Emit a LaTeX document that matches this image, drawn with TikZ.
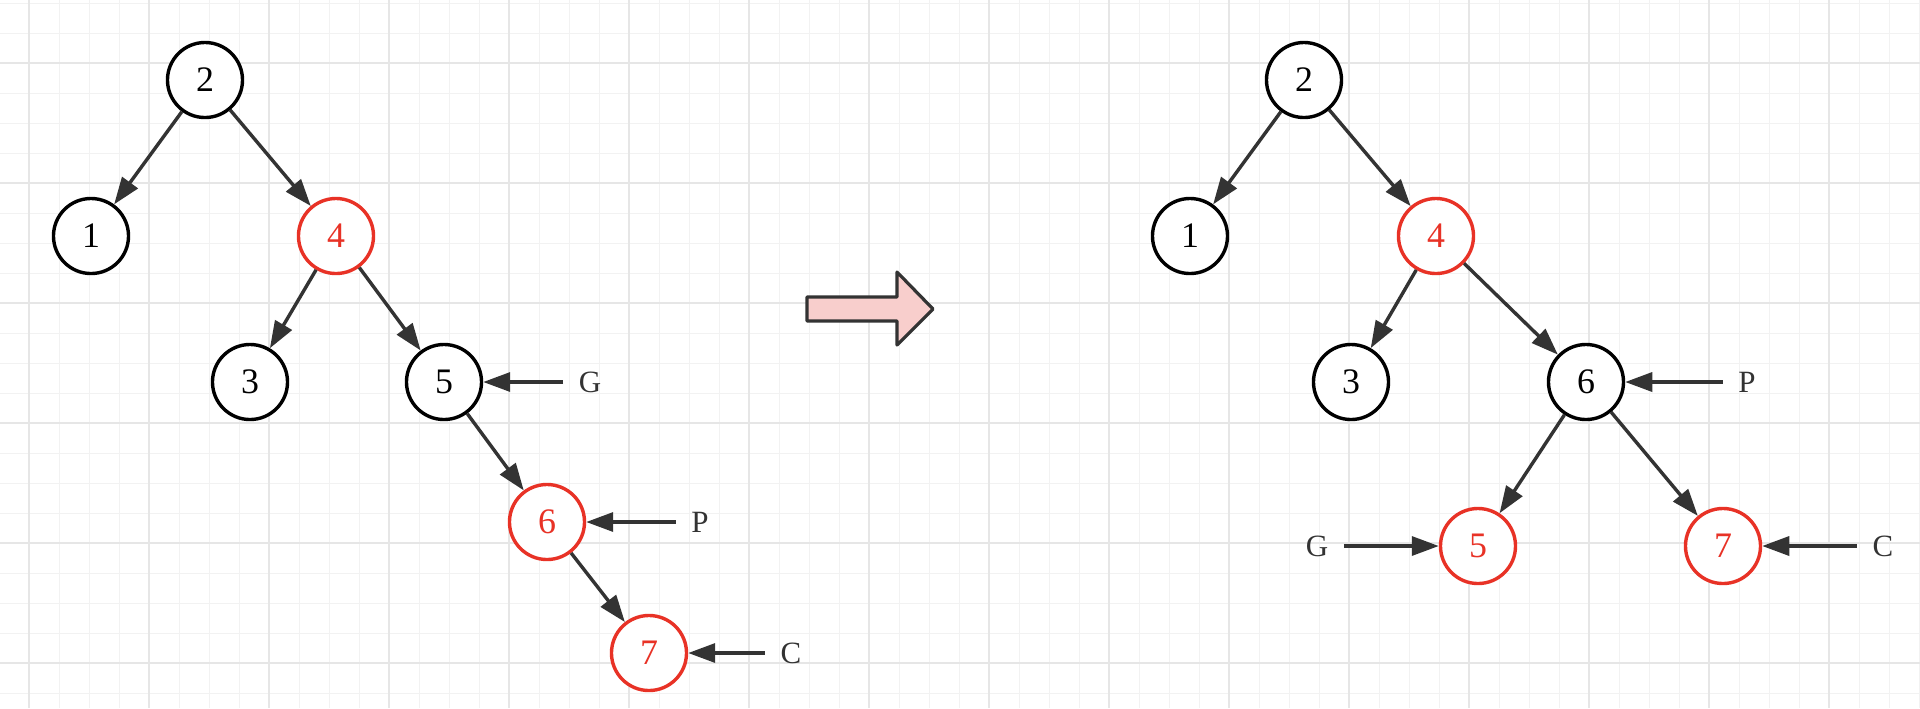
\documentclass[tikz,border=0pt]{standalone}
\usepackage{fontspec}
\setmainfont{Liberation Serif}
\usetikzlibrary{arrows.meta}
\definecolor{edgegray}{RGB}{51,51,51}
\definecolor{rbred}{RGB}{232,50,38}
\definecolor{gridminor}{RGB}{242,242,242}
\definecolor{gridmajor}{RGB}{230,230,230}
\definecolor{arrowpink}{RGB}{248,206,204}

\begin{document}
\begin{tikzpicture}[x=0.01cm,y=-0.01cm,
                    blk/.style={circle,draw=black,fill=white,line width=0.034cm,minimum size=0.75cm,inner sep=0pt,font=\fontsize{10.2}{12}\selectfont},
                    rnd/.style={blk,draw=rbred,text=rbred},
                    ptr/.style={inner xsep=0.15cm,font=\fontsize{8.8}{10}\selectfont,text=edgegray},
                    lnk/.style={draw=edgegray,line width=0.034cm,-{Triangle[length=0.27cm,width=0.19cm]}}]
                    \useasboundingbox[fill=white](0,0)rectangle(1920,708);
                    \foreach \gx in {-1,29,...,1919} \draw[gridminor,line width=0.01cm](\gx,0)--(\gx,708);
                    \foreach \gy in {3,33,...,703} \draw[gridminor,line width=0.01cm](0,\gy)--(1920,\gy);
                    \foreach \gx in {29,149,...,1919} \draw[gridmajor,line width=0.015cm](\gx,0)--(\gx,708);
                    \foreach \gy in {63,183,...,703} \draw[gridmajor,line width=0.015cm](0,\gy)--(1920,\gy);
                    \node[blk](n2)at(205,80){2};
                    \node[blk](n1)at(91,236){1};
                    \node[rnd](n4)at(336,236){4};
                    \node[blk](n3)at(250,382){3};
                    \node[blk](n5)at(444,382){5};
                    \node[rnd](n6)at(547,522){6};
                    \node[rnd](n7)at(649,653){7};
                    \node[ptr](gL)at(590,382){G};
                    \node[ptr](pL)at(700,522){P};
                    \node[ptr](cL)at(791,653){C};
                    \draw[lnk](n2)--(n1);
                    \draw[lnk](n2)--(n4);
                    \draw[lnk](n4)--(n3);
                    \draw[lnk](n4)--(n5);
                    \draw[lnk](n5)--(n6);
                    \draw[lnk](n6)--(n7);
                    \draw[lnk](gL.west)--(n5.east);
                    \draw[lnk](pL.west)--(n6.east);
                    \draw[lnk](cL.west)--(n7.east);
                    \draw[draw=edgegray,fill=arrowpink,line width=0.032cm,line join=round]
                        (807,297)--(897,297)--(897,272)--(933,309)--(897,345)--(897,321)--(807,321)--cycle;
                    \node[blk](m2)at(1304,80){2};
                    \node[blk](m1)at(1190,236){1};
                    \node[rnd](m4)at(1436,236){4};
                    \node[blk](m3)at(1351,382){3};
                    \node[blk](m6)at(1586,382){6};
                    \node[rnd](m5)at(1478,546){5};
                    \node[rnd](m7)at(1723,546){7};
                    \node[ptr](pR)at(1747,382){P};
                    \node[ptr](gR)at(1317,546){G};
                    \node[ptr](cR)at(1883,546){C};
                    \draw[lnk](m2)--(m1);
                    \draw[lnk](m2)--(m4);
                    \draw[lnk](m4)--(m3);
                    \draw[lnk](m4)--(m6);
                    \draw[lnk](m6)--(m5);
                    \draw[lnk](m6)--(m7);
                    \draw[lnk](pR.west)--(m6.east);
                    \draw[lnk](gR.east)--(m5.west);
                    \draw[lnk](cR.west)--(m7.east);
                \end{tikzpicture}
\end{document}
